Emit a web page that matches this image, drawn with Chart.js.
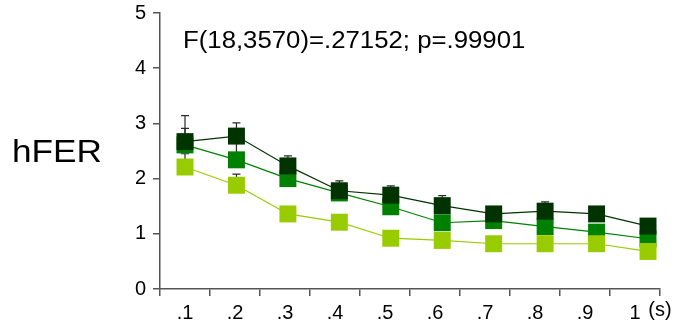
<!DOCTYPE html>
<html>
<head>
<meta charset="utf-8">
<script src="https://cdn.jsdelivr.net/npm/chart.js@4/dist/chart.umd.min.js"></script>
<style>
  html, body { margin: 0; padding: 0; background: #fff; }
  #wrap { width: 688px; height: 329px; position: relative; }
</style>
</head>
<body>
<div id="wrap"><canvas id="c" width="688" height="329"></canvas></div>
<script>
// Interval categories (seconds) and the three hFER series
const categories = ['.1', '.2', '.3', '.4', '.5', '.6', '.7', '.8', '.9', '1'];
const positions = [1, 2, 3, 4, 5, 6, 7, 8, 9, 10];
const yTicks = [0, 1, 2, 3, 4, 5];

const darkValues  = [2.67, 2.77, 2.23, 1.78, 1.70, 1.51, 1.36, 1.41, 1.36, 1.14];
const greenValues = [2.61, 2.34, 2.00, 1.74, 1.49, 1.20, 1.24, 1.13, 1.03, 0.91];
const lightValues = [2.21, 1.88, 1.36, 1.21, 0.92, 0.88, 0.82, 0.82, 0.82, 0.68];

// Upper error bar lengths
const darkErrors  = [0.47, 0.24, 0.18, 0.18, 0.17, 0.18, 0.12, 0.17, 0.11, 0.10];
const greenErrors = [0.30, 0.30, 0.11, 0.10, 0.12, 0.10, 0.09, 0.11, 0.10, 0.09];
const lightErrors = [0.24, 0.20, 0.10, 0.09, 0.08, 0.09, 0.08, 0.08, 0.09, 0.08];

const statsText = 'F(18,3570)=.27152; p=.99901';
const yTitle = 'hFER';
const xUnit = '(s)';

const FONT = '"Liberation Sans", Arial, sans-serif';
const TICK_SIZE = 20;

function series(values, errors, color) {
  return {
    data: values.map((v, i) => ({ x: positions[i], y: v })),
    errors: errors,
    xAxisID: 'xp',
    yAxisID: 'y',
    borderColor: color,
    backgroundColor: color,
    borderWidth: 1.2,
    pointStyle: 'rect',
    pointRadius: 12,
    pointHoverRadius: 12,
    pointBorderWidth: 0,
    pointBackgroundColor: color,
    tension: 0,
    fill: false
  };
}

// Error bars are drawn underneath the markers
const errorBars = {
  id: 'errorBars',
  beforeDatasetsDraw(chart) {
    const ctx = chart.ctx;
    const yScale = chart.scales.y;
    ctx.save();
    ctx.strokeStyle = '#2a2a2a';
    ctx.lineWidth = 1.2;
    chart.data.datasets.forEach((ds, i) => {
      const meta = chart.getDatasetMeta(i);
      meta.data.forEach((pt, j) => {
        const top = yScale.getPixelForValue(ds.data[j].y + ds.errors[j]);
        ctx.beginPath();
        ctx.moveTo(pt.x, pt.y);
        ctx.lineTo(pt.x, top);
        ctx.moveTo(pt.x - 4, top);
        ctx.lineTo(pt.x + 4, top);
        ctx.stroke();
      });
    });
    ctx.restore();
  }
};

// Free-standing texts: axis name, statistics line and time unit
const annotations = {
  id: 'annotations',
  afterDraw(chart) {
    const ctx = chart.ctx;
    const area = chart.chartArea;
    const xs = chart.scales.x;
    ctx.save();
    ctx.fillStyle = '#000';
    ctx.textBaseline = 'alphabetic';
    ctx.textAlign = 'left';

    ctx.save();
    ctx.font = '32px ' + FONT;
    ctx.translate(12, 162);
    ctx.scale(1.1, 1);
    ctx.fillText(yTitle, 0, 0);
    ctx.restore();

    ctx.save();
    ctx.font = '23px ' + FONT;
    ctx.translate(183, 48);
    ctx.scale(1.12, 1);
    ctx.fillText(statsText, 0, 0);
    ctx.restore();

    ctx.font = TICK_SIZE + 'px ' + FONT;
    ctx.textAlign = 'center';
    ctx.textBaseline = 'middle';
    ctx.fillText(xUnit, area.right, xs.top + 21);
    ctx.restore();
  }
};

new Chart(document.getElementById('c'), {
  type: 'line',
  data: {
    labels: categories,
    datasets: [
      series(darkValues, darkErrors, '#003300'),
      series(lightValues, lightErrors, '#99cc00'),
      series(greenValues, greenErrors, '#008000')
    ]
  },
  plugins: [errorBars, annotations],
  options: {
    responsive: false,
    animation: false,
    devicePixelRatio: 1,
    layout: { padding: { left: 0, top: 13, right: 28, bottom: 0 } },
    plugins: { legend: { display: false }, tooltip: { enabled: false } },
    scales: {
      x: {
        type: 'category',
        labels: categories,
        offset: true,
        grid: { offset: true, drawOnChartArea: false, tickLength: 7, color: '#555', lineWidth: 1.5 },
        border: { color: '#555', width: 1.5 },
        ticks: { color: '#000', font: { family: FONT, size: TICK_SIZE, lineHeight: 1 }, padding: 7, maxRotation: 0, autoSkip: false },
        afterFit(s) { s.height = 40; s.paddingLeft = 0; s.paddingRight = 0; }
      },
      xp: {
        type: 'linear',
        display: false,
        min: 0.514,
        max: 10.233
      },
      y: {
        min: 0,
        max: 5,
        afterBuildTicks(s) { s.ticks = yTicks.map(v => ({ value: v })); },
        grid: { drawOnChartArea: false, tickLength: 7, color: '#555', lineWidth: 1.5 },
        border: { color: '#555', width: 1.5 },
        ticks: { color: '#000', font: { family: FONT, size: TICK_SIZE, lineHeight: 1 }, padding: 7 },
        afterFit(s) { s.width = 160; s.paddingTop = 0; s.paddingBottom = 0; }
      }
    }
  }
});
</script>
</body>
</html>
